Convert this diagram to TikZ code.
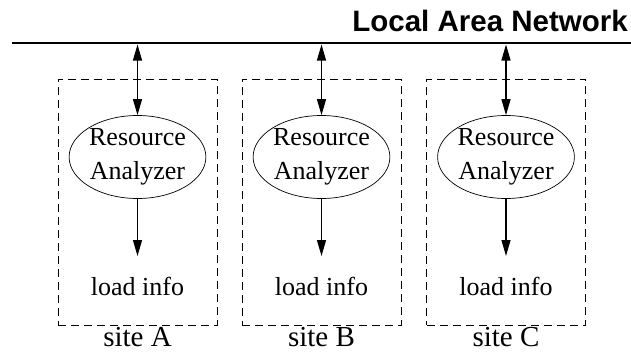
\documentclass[tikz,border=0pt]{standalone}
\usepackage{fontspec}
\setmainfont{Liberation Serif}
\newfontfamily\titlefont{Liberation Sans}
\usetikzlibrary{shapes.geometric,arrows.meta}
\tikzset{
  sitebox/.style={draw, dashed, dash pattern=on 8pt off 5pt, line width=0.9pt, minimum width=159pt, minimum height=246pt, inner sep=0pt},
  analyzer/.style={draw, ellipse, line width=0.7pt, minimum width=131pt, minimum height=83pt, inner sep=0pt, align=center, font=\fontsize{26}{34}\selectfont},
  lbl/.style={inner sep=0pt, font=\fontsize{26}{28}\selectfont},
  sitelbl/.style={inner sep=0pt, font=\fontsize{29}{31}\selectfont},
  conn/.style={line width=1.2pt, -{Triangle[length=16pt,width=9pt]}},
  biconn/.style={line width=1.2pt, {Triangle[length=16pt,width=9pt]}-{Triangle[length=16pt,width=9pt]}},
}
\begin{document}
\begin{tikzpicture}[x=1pt,y=-1pt]
\useasboundingbox (0,0) rectangle (631,353);
% LAN
\coordinate (lanL) at (12,43);
\coordinate (lanR) at (631,43);
\draw[line width=2.6pt] (lanL) -- (lanR);
\node[anchor=base east, inner sep=0pt, font=\titlefont\bfseries\fontsize{29.5}{30}\selectfont] (title) at (628,32) {Local Area Network};
\foreach \n/\x/\s in {A/137.5/A, B/321.5/B, C/506/C}{
  \node[sitebox] (box\n) at (\x,202) {};
  \node[analyzer] (ra\n) at (\x,157) {Resource\\Analyzer};
  \node[lbl, anchor=base] (li\n) at (\x,295) {load info};
  \node[sitelbl, anchor=base] (site\n) at (\x,346) {site \s};
  \coordinate (lan\n) at (\x,44.5);
  \coordinate (tip\n) at (\x,256);
  \draw[biconn] (lan\n) -- (ra\n.north);
  \draw[conn] (ra\n.south) -- (tip\n);
}
\end{tikzpicture}
\end{document}
